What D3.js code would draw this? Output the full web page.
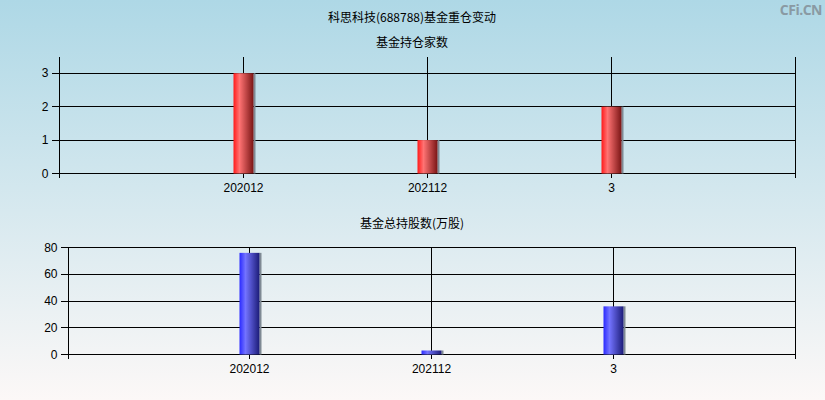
<!DOCTYPE html>
<html><head><meta charset="utf-8">
<script src="https://cdn.jsdelivr.net/npm/d3@7"></script>
<style>body{margin:0;padding:0;}svg{display:block;}</style>
</head><body>
<script>
const categories = ["202012", "202112", "3"];
const fundCounts = [3, 1, 2];
const fundShares = [76, 3, 36];
const countTicks = [0, 1, 2, 3];
const shareTicks = [0, 20, 40, 60, 80];
const mainTitle = "科思科技(688788)基金重仓变动";
const title1 = "基金持仓家数";
const title2 = "基金总持股数(万股)";

const W = 825, H = 400;
const svg = d3.select("body").append("svg").attr("width", W).attr("height", H);
const defs = svg.append("defs");
const bg = defs.append("linearGradient").attr("id","bg").attr("x1",0).attr("y1",0).attr("x2",0).attr("y2",1);
bg.append("stop").attr("offset","0%").attr("stop-color","#aed8e6");
bg.append("stop").attr("offset","100%").attr("stop-color","#fcf8f7");
svg.append("rect").attr("width",W).attr("height",H).attr("fill","url(#bg)");

function barGrad(id, c1, c2, c3){
  const g = defs.append("linearGradient").attr("id",id).attr("x1",0).attr("y1",0).attr("x2",1).attr("y2",0);
  g.append("stop").attr("offset","0%").attr("stop-color",c1);
  g.append("stop").attr("offset","30%").attr("stop-color",c2);
  g.append("stop").attr("offset","100%").attr("stop-color",c3);
}
barGrad("red","#ff1a1a","#ff7373","#7a1515");
barGrad("blue","#2a2aff","#7373ff","#1c1c78");

const font = "'Liberation Sans', Arial, sans-serif";
const cjk = "'Noto Sans CJK SC', sans-serif";

svg.append("text").attr("x",412).attr("y",22).attr("text-anchor","middle")
  .attr("font-family",cjk).attr("font-size",12).attr("fill","#000").text(mainTitle);
svg.append("text").attr("x",822).attr("y",15).attr("text-anchor","end")
  .attr("font-family","'Open Sans', 'DejaVu Sans', sans-serif").attr("font-weight","bold").attr("font-size",14)
  .attr("fill","#8a9aa3").attr("letter-spacing","-0.5").text("CFi.CN");

function panel(opts){
  const {ax, x0, x1, yTop, yBot, domainMax, ticks, values, grad, title, titleY} = opts;
  const g = svg.append("g");
  g.append("text").attr("x",412).attr("y",titleY).attr("text-anchor","middle")
    .attr("font-family",cjk).attr("font-size",12).attr("fill","#000").text(title);
  const x = d3.scalePoint().domain(categories).range([x0, x1]).padding(1);
  const y = d3.scaleLinear().domain([0, domainMax]).range([yBot, yTop]);
  g.selectAll(".hg").data(ticks).enter().append("line")
    .attr("x1", ax - 8).attr("x2", x1).attr("y1", d=>y(d)).attr("y2", d=>y(d))
    .attr("stroke","#000").attr("stroke-width",1).attr("shape-rendering","crispEdges");
  const vx = [ax].concat(categories.map(c=>x(c))).concat([x1]);
  g.selectAll(".vg").data(vx).enter().append("line")
    .attr("x1", d=>d).attr("x2", d=>d).attr("y1", yTop).attr("y2", yBot + 4)
    .attr("stroke","#000").attr("stroke-width",1).attr("shape-rendering","crispEdges");
  g.selectAll(".yl").data(ticks).enter().append("text")
    .attr("x", ax - 11).attr("y", d=>y(d)).attr("dy","0.35em").attr("text-anchor","end")
    .attr("font-family",font).attr("font-size",12).attr("fill","#000").text(d=>d);
  g.selectAll(".xl").data(categories).enter().append("text")
    .attr("x", d=>x(d)).attr("y", yBot + 18).attr("text-anchor","middle")
    .attr("font-family",font).attr("font-size",12).attr("fill","#000").text(d=>d);
  const bw = 20;
  g.selectAll(".sh").data(values).enter().append("rect")
    .attr("x",(d,i)=>x(categories[i]) + bw/2).attr("width",2)
    .attr("y", d=>y(d)).attr("height", d=>yBot - y(d)).attr("fill","#7f8a94");
  g.selectAll(".bar").data(values).enter().append("rect")
    .attr("x",(d,i)=>x(categories[i]) - bw/2).attr("width",bw)
    .attr("y", d=>y(d)).attr("height", d=>yBot - y(d)).attr("fill","url(#"+grad+")");
}

panel({ax:59.5, x0:59.5, x1:795.5, yTop:56.5, yBot:173.5, domainMax:3.5, ticks:countTicks,
  values:fundCounts, grad:"red", title:title1, titleY:47});
panel({ax:68.5, x0:67.5, x1:795.5, yTop:247.5, yBot:354.5, domainMax:80, ticks:shareTicks,
  values:fundShares, grad:"blue", title:title2, titleY:228});
</script>
</body></html>
